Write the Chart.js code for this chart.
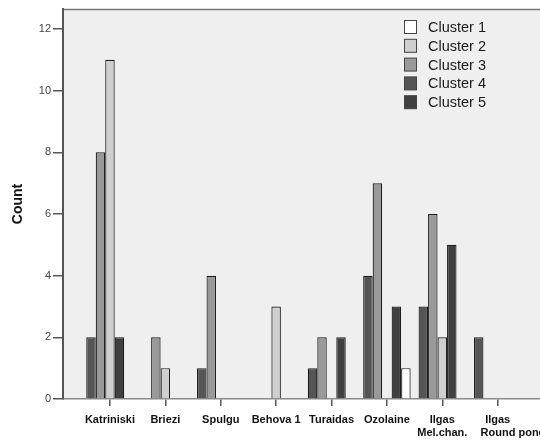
<!DOCTYPE html>
<html>
<head>
<meta charset="utf-8">
<script src="https://cdn.jsdelivr.net/npm/chart.js@4/dist/chart.umd.min.js"></script>
<style>
  html, body { margin: 0; padding: 0; background: #ffffff; overflow: hidden; }
  #wrap { width: 540px; height: 441px; position: relative; }
</style>
</head>
<body>
<div id="wrap"><canvas id="c"></canvas></div>
<script>
// ---- data ----
const categories = ["Katriniski", "Briezi", "Spulgu", "Behova 1", "Turaidas", "Ozolaine", "Ilgas Mel.chan.", "Ilgas Round pond"];
const tickLabels = [["Katriniski"], ["Briezi"], ["Spulgu"], ["Behova 1"], ["Turaidas"], ["Ozolaine"], ["Ilgas", "Mel.chan."], ["Ilgas", "          Round pond"]];
const countTicks = [0, 2, 4, 6, 8, 10, 12];
// bar slots appear in this order within each group
const cluster4 = [2, null, 1, null, 1, 4, 3, 2];
const cluster3 = [8, 2, 4, null, 2, 7, 6, null];
const cluster2 = [11, 1, null, 3, null, null, 2, null];
const cluster5 = [2, null, null, null, 2, 3, 5, null];
const cluster1 = [null, null, null, null, null, 1, null, null];

const seriesDefs = [
  { label: "Cluster 4", values: cluster4, color: "#555555" },
  { label: "Cluster 3", values: cluster3, color: "#999999" },
  { label: "Cluster 2", values: cluster2, color: "#cfcfcf" },
  { label: "Cluster 5", values: cluster5, color: "#404040" },
  { label: "Cluster 1", values: cluster1, color: "#ffffff" }
];

const datasets = seriesDefs.map(s => ({
  label: s.label,
  data: s.values.map((v, i) => ({ x: i, y: v })).filter(p => p.y !== null),
  backgroundColor: s.color,
  borderColor: "#1e1e1e",
  borderWidth: 1.2,
  borderSkipped: "start",
  barPercentage: 1.0,
  categoryPercentage: 0.857
}));

const plotBg = {
  id: "plotBg",
  beforeDraw(chart) {
    const { ctx, chartArea: a } = chart;
    ctx.save();
    ctx.fillStyle = "#efefef";
    ctx.fillRect(a.left, a.top, 540 - a.left, a.bottom - a.top);
    ctx.strokeStyle = "#777777";
    ctx.lineWidth = 1.5;
    ctx.beginPath();
    ctx.moveTo(a.left, a.top + 0.5);
    ctx.lineTo(540, a.top + 0.5);
    ctx.stroke();
    ctx.restore();
  }
};

const customLegend = {
  id: "customLegend",
  afterDraw(chart) {
    const { ctx } = chart;
    const items = chart.data.datasets
      .map(d => ({ label: d.label, color: d.backgroundColor }))
      .sort((a, b) => a.label.localeCompare(b.label));
    ctx.save();
    ctx.font = "14.5px 'Liberation Sans', Arial, sans-serif";
    ctx.textBaseline = "middle";
    ctx.textAlign = "left";
    items.forEach((it, i) => {
      const cy = 27 + i * 18.8;
      ctx.fillStyle = it.color;
      ctx.fillRect(404.5, cy - 6.5, 12, 13);
      ctx.strokeStyle = "#444444";
      ctx.lineWidth = 1;
      ctx.strokeRect(404.5, cy - 6.5, 12, 13);
      ctx.fillStyle = "#1a1a1a";
      ctx.fillText(it.label, 428, cy + 1);
    });
    ctx.restore();
  }
};

new Chart(document.getElementById("c"), {
  type: "bar",
  data: { datasets },
  plugins: [plotBg, customLegend],
  options: {
    responsive: true,
    maintainAspectRatio: false,
    animation: false,
    layout: { padding: { top: 9, right: -40, left: 0, bottom: 0 } },
    plugins: { legend: { display: false }, tooltip: { enabled: false } },
    scales: {
      x: {
        type: "linear",
        offset: false,
        min: -0.848,
        max: 7.764,
        grid: { display: true, offset: false, drawOnChartArea: false, drawTicks: true, tickLength: 7, color: "#555555", lineWidth: 1.5 },
        border: { display: true, color: "#8a8a8a", width: 1.5 },
        ticks: {
          stepSize: 1,
          includeBounds: false,
          autoSkip: false,
          maxRotation: 0,
          padding: 7,
          color: "#111111",
          font: { family: "'Liberation Sans', Arial, sans-serif", size: 11, weight: "bold", lineHeight: 1.2 },
          callback: (v) => (Number.isInteger(v) && v >= 0 && v < tickLabels.length) ? tickLabels[v] : ""
        },
        afterFit: (s) => { s.height = 42; s.paddingRight = 0; }
      },
      y: {
        min: 0,
        max: 12.65,
        grid: { display: true, drawOnChartArea: false, drawTicks: true, tickLength: 10, color: "#555555", lineWidth: 1.5 },
        border: { display: true, color: "#555555", width: 2 },
        ticks: {
          stepSize: 2,
          includeBounds: false,
          padding: 2,
          color: "#444444",
          font: { family: "'Liberation Sans', Arial, sans-serif", size: 11 },
          callback: (v) => countTicks.includes(v) ? String(v) : ""
        },
        title: {
          display: true,
          text: "Count",
          color: "#111111",
          padding: { top: 10, bottom: 0 },
          font: { family: "'Liberation Sans', Arial, sans-serif", size: 14, weight: "bold" }
        },
        afterFit: (s) => { s.width = 63; }
      }
    }
  }
});
</script>
</body>
</html>
